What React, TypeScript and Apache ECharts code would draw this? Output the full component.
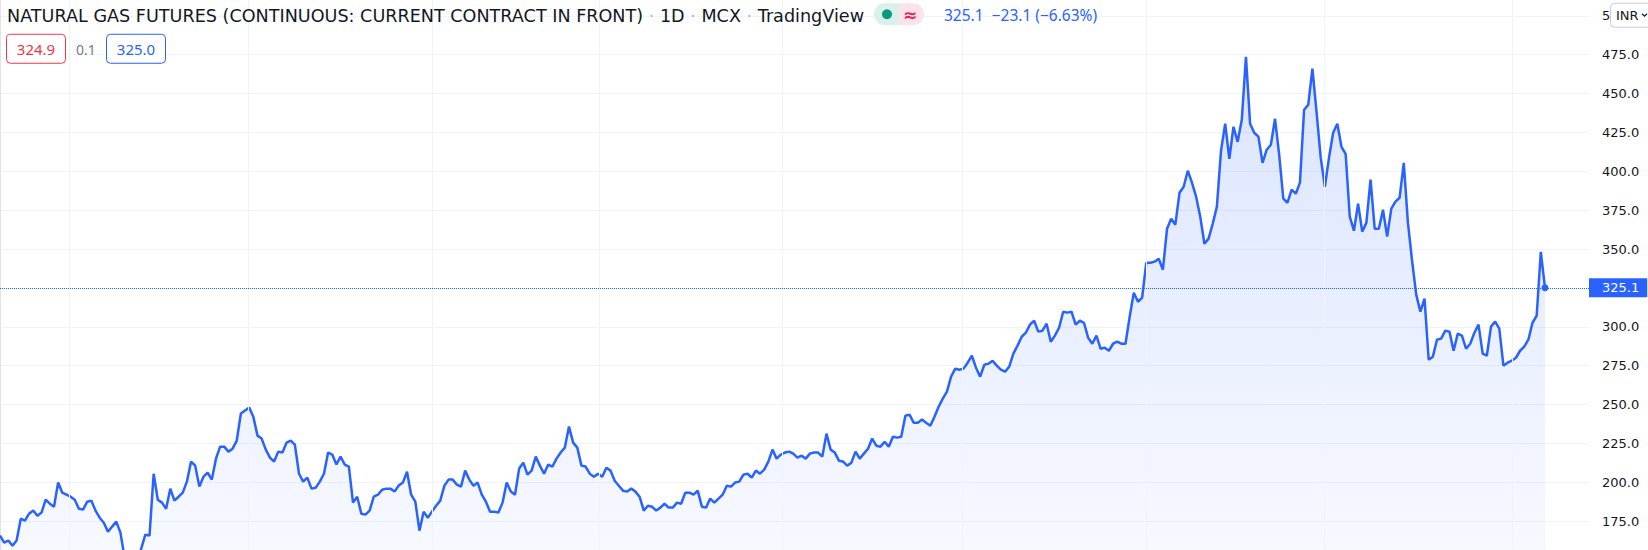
import React, { useEffect, useRef } from 'react';
import * as echarts from 'echarts';

// Daily closes, read left to right off the reference (INR)
const segA = [
  165.7, 161.2, 162.5, 159.2, 162.5, 176.6, 175.3, 179.8, 181.8, 178.5,
  180.5, 188.8, 186.2, 184.3, 199.8, 193.3, 192.0, 190.7, 188.8, 183.0,
  182.4, 187.5, 188.2, 181.8, 177.2, 174.0, 168.2, 171.5, 174.7, 167.6,
  151.5, 147.0, 147.0, 150.2, 157.3, 166.3, 165.7, 205.5, 188.8, 186.9,
  183.0, 195.9, 188.2, 190.7, 193.3, 200.4, 213.3, 210.7, 197.2, 203.6,
  206.2, 201.7, 215.2, 222.9, 222.9, 219.7, 221.6, 226.8, 244.2, 246.1,
  248.0, 242.2, 230.0, 228.1, 221.0, 215.9, 213.3, 219.7, 219.1, 225.5,
  226.8, 224.2, 205.5, 200.4, 203.0, 195.9, 196.5, 200.4, 205.5, 219.1,
  217.8, 211.4, 216.5, 211.4, 210.1, 186.9, 190.7, 179.8, 179.2, 181.8,
  190.7, 192.0, 195.2, 195.9, 195.9, 194.0, 197.9, 199.8, 206.8,
];
const segB = [
  192.0, 187.5, 168.9, 181.1, 177.2, 181.1, 184.9, 188.2, 197.8, 201.7,
  201.7, 198.5, 197.2, 207.5, 201.7, 197.8, 199.8, 192.0, 187.5, 181.1,
  181.1, 180.5, 186.9, 199.8, 194.0, 192.0, 208.8, 212.6, 204.9, 207.5,
  216.5, 210.7, 205.5, 211.4, 210.1, 215.2, 219.1, 222.3, 235.8, 225.5,
  222.3, 210.7, 210.1, 205.5, 203.6, 205.5, 203.6, 209.4, 207.5, 201.0,
  197.8, 194.6, 194.0, 195.9, 194.0, 190.7, 181.8, 184.9, 184.3, 181.8,
  183.7, 186.2, 183.7, 183.7, 186.9, 186.2, 193.3, 193.3, 192.0, 194.6,
  184.3, 183.7, 189.5, 186.9, 189.5, 192.0, 197.8, 197.2, 199.8, 200.4,
  204.9, 205.5, 203.0, 207.5, 205.5, 208.1, 213.3, 221.0, 215.2, 217.8,
];
const segC = [
  219.1, 219.7, 218.4, 215.9, 217.1, 215.2, 218.4, 219.1, 219.1, 216.5,
  231.3, 221.0, 219.1, 213.9, 213.3, 210.7, 212.6, 219.7, 215.2, 218.4,
  221.6, 228.1, 223.5, 222.9, 226.1, 222.9, 229.3, 228.7, 229.3, 242.8,
  243.5, 238.3, 238.3, 240.3, 238.3, 236.4, 242.2, 248.6, 253.8, 258.3,
  267.9, 273.1, 272.4, 273.1, 276.9, 281.4, 273.7, 267.9, 275.6, 276.3,
  278.2, 275.0, 272.4, 271.1, 274.4, 282.7, 287.9, 293.6, 296.2, 301.4,
  303.9, 296.9, 297.5, 302.0, 290.4, 294.3, 299.4, 309.7, 309.1, 309.7,
  301.4, 303.9, 302.6, 293.0, 289.1, 294.3, 285.9,
];
const segD = [
  286.6, 284.6, 289.1, 290.4, 289.1, 289.1, 306.5, 321.9, 316.1, 318.7,
  341.2, 341.2, 341.9, 343.8, 336.7, 363.1, 369.5, 365.7, 386.2, 390.1,
  400.4, 392.7, 383.7, 370.8, 353.4, 356.7, 366.3, 377.3, 413.3, 430.6,
  408.1, 428.7, 419.0, 433.2, 473.7, 430.6, 424.8, 422.3, 405.5, 413.9,
  417.1, 433.8, 410.7, 382.4, 379.8, 388.2, 385.6, 392.7, 439.6, 442.8,
  466.0, 438.3, 408.8, 390.1, 408.8, 424.8, 430.6, 415.8, 411.3, 370.8,
  361.8, 379.2, 361.2, 367.0, 394.6, 363.1, 363.1, 375.3, 358.0, 376.0,
  380.5, 383.0, 405.5, 367.0, 342.5, 320.7, 309.7, 318.1, 278.8, 280.8,
  291.7, 292.4, 297.5, 296.9, 284.6, 295.6, 294.3, 285.9, 289.1, 296.2,
  301.4, 282.7, 281.4, 300.1, 303.3, 298.8, 275.0, 276.9, 278.2, 280.1,
  284.6, 287.2, 291.7, 302.6, 307.1, 348.2, 325.1,
];
const prices = [...segA, ...segB, ...segC, ...segD];

// Bar indices where the vertical (two-month) grid lines fall
const periodStarts = [16.6, 59.7, 104.0, 144.2, 188.3, 231.6, 275.9, 318.8, 364.1];

const lastPrice = 325.1;
const change = -23.1;
const changePct = -6.63;
const bidPrice = 324.9;
const askPrice = 325.0;
const spread = 0.1;

const yMin = 150;
const yMax = 525;
const yStep = 25;
const xMax = 382.6;

const BLUE = '#2962ff';
// the chart canvas is taller than the page and shifted up, so that the visible
// window shows the price range of the reference
const SHIFT = 22.75;
const CHART_H = 583.15;

export default function App() {
  const ref = useRef<HTMLDivElement>(null);
  useEffect(() => {
    const chart = echarts.init(ref.current!, null, { renderer: 'svg' });
    const data = prices.map((v, i) => [i, v]);
    const last = data.length - 1;
    const fmt = (v: number, d: number) => v.toFixed(d).replace('-', '\u2212');
    const Y = (y: number) => y + SHIFT;
    chart.setOption({
      animation: false,
      grid: { left: 0, right: 59, top: 0, bottom: 0 },
      xAxis: { type: 'value', min: 0, max: xMax, show: false },
      yAxis: {
        type: 'value',
        position: 'right',
        min: yMin,
        max: yMax,
        interval: yStep,
        axisLine: { show: true, lineStyle: { color: '#e0e3eb', width: 1 } },
        axisTick: { show: false },
        splitLine: { lineStyle: { color: '#f0f3fa', width: 1 } },
        axisLabel: {
          color: '#131722',
          fontSize: 13,
          fontFamily: 'DejaVu Sans',
          margin: 13,
          formatter: (v: number) =>
            Math.abs(v - 325) < 0.01 || v < 160 || v > 510 ? '' : v.toFixed(1),
        },
      },
      series: [
        {
          type: 'line',
          data: [],
          z: 1,
          silent: true,
          markLine: {
            silent: true,
            symbol: 'none',
            label: { show: false },
            lineStyle: { color: '#f0f3fa', type: 'solid', width: 1 },
            data: periodStarts.map((x) => ({ xAxis: x })),
          },
        },
        {
          type: 'line',
          data,
          z: 2,
          clip: false,
          showSymbol: false,
          symbol: 'none',
          lineStyle: { color: BLUE, width: 2.5 },
          areaStyle: {
            color: new echarts.graphic.LinearGradient(0, 0, 0, 1, [
              { offset: 0, color: 'rgba(41,98,255,0.24)' },
              { offset: 1, color: 'rgba(41,98,255,0.05)' },
            ]),
          },
          markLine: {
            silent: true,
            symbol: 'none',
            lineStyle: { color: BLUE, type: 'dotted', width: 1 },
            label: {
              show: true,
              position: 'end',
              distance: 0,
              formatter: lastPrice.toFixed(1),
              color: '#ffffff',
              backgroundColor: BLUE,
              padding: [3, 8, 3, 13],
              fontSize: 13,
              fontFamily: 'DejaVu Sans',
            },
            data: [{ yAxis: lastPrice }],
          },
          markPoint: {
            silent: true,
            symbol: 'circle',
            symbolSize: 7,
            itemStyle: { color: BLUE },
            label: { show: false },
            data: [{ coord: [last, lastPrice] }],
          },
        },
      ],
      graphic: [
        {
          type: 'text',
          x: 7,
          y: Y(16),
          z: 100,
          style: {
            text: '{t|NATURAL GAS FUTURES (CONTINUOUS: CURRENT CONTRACT IN FRONT)}{d| · }{t|1D}{d| · }{t|MCX}{d| · }{t|TradingView}',
            verticalAlign: 'middle',
            rich: {
              t: { fontSize: 17.6, fontFamily: 'DejaVu Sans', fill: '#131722', color: '#131722' },
              d: { fontSize: 17.6, fontFamily: 'DejaVu Sans', fill: '#b2b5be', color: '#b2b5be' },
            },
          },
        },
        { type: 'rect', z: 100, shape: { x: 874, y: Y(3.5), width: 25, height: 22, r: [11, 0, 0, 11] }, style: { fill: '#d9f1ea' } },
        { type: 'rect', z: 100, shape: { x: 899, y: Y(3.5), width: 25, height: 22, r: [0, 11, 11, 0] }, style: { fill: '#fce3ea' } },
        { type: 'circle', z: 101, shape: { cx: 887, cy: Y(14.5), r: 5 }, style: { fill: '#089981' } },
        {
          type: 'text', z: 101, x: 910, y: Y(15),
          style: { text: '\u2248', fontSize: 17, fontWeight: 'bold', fontFamily: 'DejaVu Sans', fill: '#e91e63', align: 'center', verticalAlign: 'middle' },
        },
        {
          type: 'text', z: 100, x: 944, y: Y(15.5),
          style: {
            text: `${lastPrice.toFixed(1)}  ${fmt(change, 1)} (${fmt(changePct, 2)}%)`,
            fontSize: 15.5, fontFamily: 'Noto Sans', fill: BLUE, verticalAlign: 'middle',
          },
        },
        { type: 'rect', z: 100, shape: { x: 6.5, y: Y(34.5), width: 59, height: 29, r: 4 }, style: { fill: '#ffffff', stroke: '#f23645', lineWidth: 1 } },
        {
          type: 'text', z: 101, x: 36, y: Y(49.5),
          style: { text: bidPrice.toFixed(1), fontSize: 15, fontFamily: 'Noto Sans', fill: '#f23645', align: 'center', verticalAlign: 'middle' },
        },
        {
          type: 'text', z: 100, x: 76, y: Y(49.5),
          style: { text: spread.toFixed(1), fontSize: 14, fontFamily: 'Noto Sans', fill: '#787b86', verticalAlign: 'middle' },
        },
        { type: 'rect', z: 100, shape: { x: 106.5, y: Y(34.5), width: 59, height: 29, r: 4 }, style: { fill: '#ffffff', stroke: BLUE, lineWidth: 1 } },
        {
          type: 'text', z: 101, x: 136, y: Y(49.5),
          style: { text: askPrice.toFixed(1), fontSize: 15, fontFamily: 'Noto Sans', fill: BLUE, align: 'center', verticalAlign: 'middle' },
        },
        { type: 'rect', z: 100, shape: { x: 1610.5, y: Y(3.5), width: 45, height: 24, r: 4 }, style: { fill: '#ffffff', stroke: '#c9ccd4', lineWidth: 1 } },
        {
          type: 'text', z: 101, x: 1616, y: Y(16),
          style: { text: 'INR', fontSize: 13, fontFamily: 'DejaVu Sans', fill: '#131722', verticalAlign: 'middle' },
        },
        { type: 'polyline', z: 101, shape: { points: [[1642, Y(14)], [1644.5, Y(16.5)], [1647, Y(14)]] }, style: { stroke: '#131722', lineWidth: 1.2, fill: 'none' } },
      ],
    });
    return () => chart.dispose();
  }, []);
  return (
    <div style={{ position: 'fixed', left: 0, top: 0, width: 1648, height: 550, background: '#ffffff', overflow: 'hidden' }}>
      <div ref={ref} style={{ position: 'absolute', left: 0, top: -SHIFT, width: 1648, height: CHART_H }} />
    </div>
  );
}
